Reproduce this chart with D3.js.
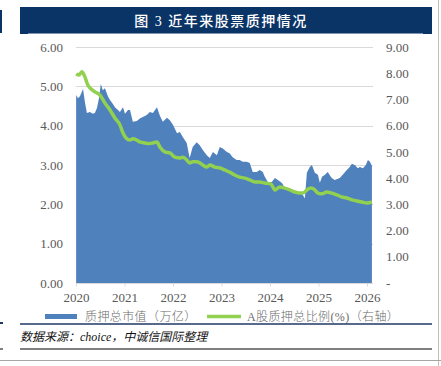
<!DOCTYPE html>
<html>
<head>
<meta charset="utf-8">
<script src="https://cdn.jsdelivr.net/npm/d3@7"></script>
<style>
  body { margin: 0; background: #fff; }
  svg { display: block; }
</style>
</head>
<body>
<div id="chart"></div>
<script>
// 质押总市值（万亿）
const mvDates = ['2020-01-02','2020-01-16','2020-01-31','2020-02-23','2020-03-08','2020-03-23','2020-04-15','2020-05-07','2020-05-22','2020-06-07','2020-06-22','2020-07-06','2020-07-21','2020-08-06','2020-08-28','2020-09-13','2020-10-05','2020-10-20','2020-11-12','2020-11-27','2020-12-20','2021-01-04','2021-01-27','2021-02-11','2021-03-04','2021-04-03','2021-04-26','2021-05-18','2021-06-17','2021-07-10','2021-08-02','2021-09-02','2021-09-24','2021-10-16','2021-11-16','2021-12-08','2022-01-01','2022-01-31','2022-02-22','2022-03-15','2022-04-14','2022-04-29','2022-05-06','2022-05-29','2022-06-28','2022-07-21','2022-08-13','2022-09-12','2022-10-05','2022-10-28','2022-11-27','2022-12-19','2023-01-11','2023-02-10','2023-03-03','2023-03-26','2023-04-25','2023-05-18','2023-06-10','2023-07-10','2023-08-02','2023-08-24','2023-09-24','2023-10-16','2023-11-08','2023-11-23','2023-12-16','2024-01-15','2024-02-07','2024-03-01','2024-03-31','2024-04-22','2024-05-30','2024-07-06','2024-08-13','2024-09-05','2024-09-20','2024-10-05','2024-10-27','2024-11-12','2024-12-04','2024-12-27','2025-01-11','2025-01-27','2025-02-18','2025-03-11','2025-04-10','2025-05-03','2025-06-10','2025-07-02','2025-08-02','2025-08-24','2025-09-09','2025-10-01','2025-10-24','2025-11-08','2025-12-01','2025-12-23','2026-01-08','2026-01-23','2026-02-07'];
const mvValues = [4.78,4.70,4.75,4.93,4.60,4.32,4.35,4.30,4.32,4.45,4.70,5.06,4.90,4.95,4.75,4.65,4.55,4.47,4.40,4.35,4.47,4.30,4.40,4.40,4.10,4.12,4.18,4.22,4.27,4.35,4.32,4.47,4.25,4.10,4.20,4.14,4.02,3.81,3.84,3.71,3.56,3.30,3.18,3.46,3.58,3.50,3.38,3.25,3.18,3.33,3.25,3.46,3.42,3.33,3.30,3.20,3.13,3.13,3.08,3.08,3.05,2.82,2.82,2.87,2.82,2.70,2.57,2.57,2.67,2.62,2.54,2.42,2.36,2.31,2.29,2.24,2.15,2.80,2.95,3.00,2.80,2.75,2.55,2.70,2.75,2.82,2.67,2.62,2.67,2.75,2.87,2.95,3.03,3.00,2.92,2.95,2.92,3.00,3.13,3.08,2.98];

// A股质押总比例(%)（右轴）
const ratioDates = ['2020-01-02','2020-01-23','2020-02-14','2020-03-08','2020-03-30','2020-04-15','2020-05-22','2020-06-29','2020-08-06','2020-09-13','2020-10-20','2020-11-27','2020-12-20','2021-01-12','2021-02-11','2021-03-04','2021-04-03','2021-04-26','2021-06-02','2021-07-10','2021-08-02','2021-09-02','2021-09-24','2021-11-01','2021-12-08','2022-01-15','2022-02-22','2022-03-15','2022-04-14','2022-05-06','2022-05-29','2022-06-28','2022-07-21','2022-08-13','2022-09-12','2022-10-05','2022-11-12','2022-12-19','2023-01-26','2023-03-03','2023-04-10','2023-05-18','2023-06-25','2023-08-02','2023-09-09','2023-10-16','2023-11-23','2024-01-07','2024-01-30','2024-02-07','2024-03-15','2024-04-22','2024-05-30','2024-07-06','2024-08-13','2024-09-05','2024-10-05','2024-11-04','2024-12-04','2024-12-27','2025-01-27','2025-03-03','2025-04-10','2025-05-18','2025-06-25','2025-08-02','2025-09-09','2025-10-16','2025-11-23','2026-01-01','2026-02-07'];
const ratioValues = [7.97,7.93,8.06,7.86,7.55,7.44,7.29,7.17,6.86,6.60,6.29,6.03,5.72,5.53,5.45,5.50,5.45,5.38,5.34,5.32,5.34,5.38,5.19,5.00,4.96,4.80,4.77,4.80,4.69,4.58,4.62,4.62,4.58,4.50,4.42,4.50,4.42,4.39,4.31,4.23,4.12,4.04,4.00,3.93,3.85,3.85,3.81,3.78,3.60,3.55,3.66,3.62,3.55,3.47,3.43,3.43,3.55,3.62,3.55,3.43,3.40,3.47,3.43,3.36,3.28,3.24,3.17,3.13,3.09,3.05,3.09];

const leftTicks = [0, 1, 2, 3, 4, 5, 6];
const rightTicks = [0, 1, 2, 3, 4, 5, 6, 7, 8, 9];
const yearTicks = ['2020', '2021', '2022', '2023', '2024', '2025', '2026'];

const W = 441, H = 366;
const parse = d3.timeParse('%Y-%m-%d');
const mv = mvDates.map((d, i) => ({ date: parse(d), v: mvValues[i] }));
const ratio = ratioDates.map((d, i) => ({ date: parse(d), v: ratioValues[i] }));

const svg = d3.select('#chart').append('svg')
  .attr('width', W)
  .attr('height', H);

const x = d3.scaleTime()
  .domain([new Date(2020, 0, 1), new Date(2026, 0, 1)])
  .range([76, 367]);
const yL = d3.scaleLinear().domain([0, 6]).range([283, 47]);
const yR = d3.scaleLinear().domain([0, 9]).range([283, 47]);

const grey = '#595959';
const serif = '"Times New Roman", "Liberation Serif", serif';
const mixed = '"Liberation Serif", "Noto Sans CJK SC", sans-serif';
const cjk = '"Noto Sans CJK SC", sans-serif';

// title bar
svg.append('rect').attr('x', 0).attr('y', 10).attr('width', 2).attr('height', 23).attr('fill', '#0b3466');
svg.append('rect').attr('x', 20).attr('y', 7).attr('width', 412).attr('height', 27).attr('fill', '#0b3466');
svg.append('line').attr('x1', 28).attr('x2', 423).attr('y1', 33.5).attr('y2', 33.5)
  .attr('stroke', '#7f93b0').attr('stroke-width', 1);
svg.append('text')
  .attr('x', 221).attr('y', 25.5)
  .attr('text-anchor', 'middle')
  .attr('fill', '#fff')
  .style('font-family', mixed)
  .style('font-size', '14px')
  .style('font-weight', '500')
  .style('letter-spacing', '1.5px')
  .text('图 3  近年来股票质押情况');

// right border
svg.append('line').attr('x1', 438.5).attr('x2', 438.5).attr('y1', 0).attr('y2', H)
  .attr('stroke', '#bfbfbf').attr('stroke-width', 1);

// gridlines
svg.append('g').selectAll('line').data(leftTicks.slice(1)).join('line')
  .attr('x1', 76).attr('x2', 373)
  .attr('y1', d => Math.round(yL(d)) + 0.5).attr('y2', d => Math.round(yL(d)) + 0.5)
  .attr('stroke', '#d9d9d9').attr('stroke-width', 1);

// area
const area = d3.area()
  .x(d => x(d.date))
  .y0(yL(0))
  .y1(d => yL(d.v));
svg.append('path').datum(mv)
  .attr('d', area)
  .attr('fill', '#4f81bd');

// ratio line
const line = d3.line()
  .x(d => x(d.date))
  .y(d => yR(d.v))
  .curve(d3.curveMonotoneX);
svg.append('path').datum(ratio)
  .attr('d', line)
  .attr('fill', 'none')
  .attr('stroke', '#92d050')
  .attr('stroke-width', 3.5)
  .attr('stroke-linejoin', 'round');

// x axis
const xAxis = d3.axisBottom(x)
  .tickValues(yearTicks.map(y => new Date(+y, 0, 1)))
  .tickFormat(d3.timeFormat('%Y'))
  .tickSize(3)
  .tickPadding(6);
const gx = svg.append('g').attr('transform', `translate(0,${yL(0) + 0.5})`).call(xAxis);
gx.select('.domain').attr('d', 'M76,0H373').attr('stroke', '#d9d9d9');
gx.selectAll('.tick line').attr('stroke', '#d9d9d9');
gx.selectAll('text').attr('fill', grey).style('font-family', serif).style('font-size', '13px');

// left axis
const gl = svg.append('g').attr('transform', 'translate(63,0)')
  .call(d3.axisLeft(yL).tickValues(leftTicks).tickFormat(d3.format('.2f')).tickSize(0).tickPadding(0));
gl.select('.domain').remove();
gl.selectAll('text').attr('fill', grey).style('font-family', serif).style('font-size', '13px');

// right axis
const gr = svg.append('g').attr('transform', 'translate(386,0)')
  .call(d3.axisRight(yR).tickValues(rightTicks).tickFormat(d => d === 0 ? '-' : d3.format('.2f')(d)).tickSize(0).tickPadding(0));
gr.select('.domain').remove();
gr.selectAll('text').attr('fill', grey).style('font-family', serif).style('font-size', '13px');

// legend
const lg = svg.append('g').attr('transform', 'translate(0,316)');
lg.append('rect').attr('x', 45).attr('y', -2).attr('width', 32).attr('height', 5).attr('fill', '#4f81bd');
lg.append('text').attr('x', 85).attr('y', 4.5)
  .attr('fill', '#6b6b6b').style('font-family', cjk).style('font-size', '12px').style('font-weight', '300').style('letter-spacing', '0.4px')
  .text('质押总市值（万亿）');
lg.append('line').attr('x1', 207).attr('x2', 241).attr('y1', 0.5).attr('y2', 0.5)
  .attr('stroke', '#92d050').attr('stroke-width', 3.5);
lg.append('text').attr('x', 247).attr('y', 4.5)
  .attr('fill', '#6b6b6b').style('font-family', mixed).style('font-size', '12px').style('font-weight', '300').style('letter-spacing', '0.4px')
  .text('A股质押总比例(%)（右轴）');

// footer
svg.append('rect').attr('x', 0).attr('y', 322).attr('width', 3).attr('height', 2).attr('fill', '#1f3864');
svg.append('line').attr('x1', 20).attr('x2', 432).attr('y1', 324).attr('y2', 324)
  .attr('stroke', '#1f3864').attr('stroke-width', 1.5);
svg.append('text').attr('x', 20).attr('y', 341)
  .attr('fill', '#111').style('font-family', mixed)
  .style('font-size', '12px').style('font-style', 'italic')
  .text('数据来源：choice，中诚信国际整理');
svg.append('rect').attr('x', 0).attr('y', 348).attr('width', 3).attr('height', 2).attr('fill', '#808080');
svg.append('line').attr('x1', 20).attr('x2', 432).attr('y1', 349).attr('y2', 349)
  .attr('stroke', '#808080').attr('stroke-width', 2);
svg.append('line').attr('x1', 0).attr('x2', W).attr('y1', 360.5).attr('y2', 360.5)
  .attr('stroke', '#a6a6a6').attr('stroke-width', 1);
</script>
</body>
</html>
